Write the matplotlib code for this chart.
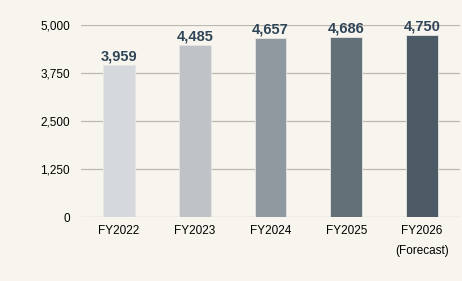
import matplotlib
matplotlib.use("Agg")
import matplotlib.pyplot as plt
from matplotlib.ticker import FuncFormatter

categories = ["FY2022", "FY2023", "FY2024", "FY2025", "FY2026\n(Forecast)"]
values = [3959, 4485, 4657, 4686, 4750]
yticks = [0, 1250, 2500, 3750, 5000]
colors = ["#d5d8dc", "#bfc3c7", "#8f999f", "#637078", "#4c5b66"]

bg = "#f8f5ee"
plt.rcParams['font.family'] = ['Liberation Sans', 'DejaVu Sans']

fig = plt.figure(figsize=(4.62, 2.81), dpi=100, facecolor=bg)
ax = fig.add_axes([81/462, 1 - 217/281, (460-81)/462, (217-25)/281])
ax.set_facecolor(bg)

x = list(range(len(categories)))
ax.bar(x, values, width=0.42, color=colors, edgecolor="#e6e6e6", linewidth=0.6, zorder=3)
for xi, v in zip(x, values):
    ax.text(xi, v + 40, f"{v:,}", ha="center", va="bottom", fontsize=10.5,
            fontweight="bold", color="#2f4558", zorder=4)

ax.set_xlim(-0.5, 4.5)
ax.set_ylim(0, 5000)
ax.set_yticks(yticks)
ax.yaxis.set_major_formatter(FuncFormatter(lambda v, p: f"{int(v):,}"))
ax.set_xticks(x)
ax.set_xticklabels(categories, fontsize=8.5, linespacing=1.85)
ax.tick_params(axis="y", length=0, pad=8, labelsize=8.5)
ax.tick_params(axis="x", length=0, pad=6)
ax.grid(axis="y", color="#bcb8b0", linewidth=0.9, zorder=0)
for s in ax.spines.values():
    s.set_visible(False)

fig.savefig("out.png", dpi=100, facecolor=bg)
